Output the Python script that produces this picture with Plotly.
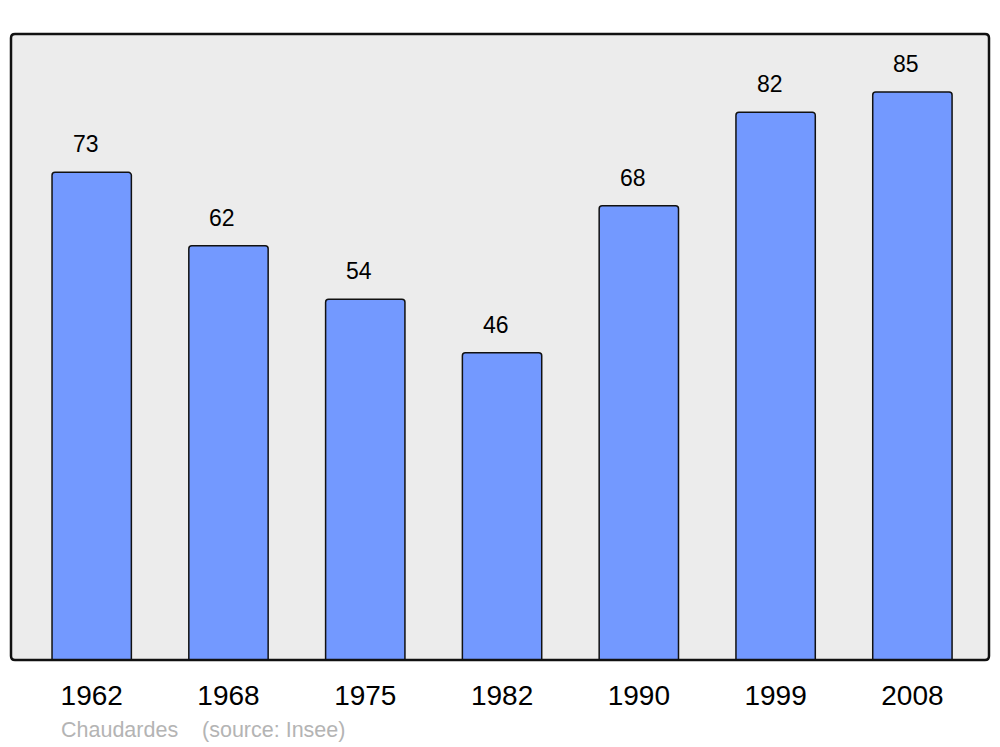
import plotly.graph_objects as go

years = ["1962", "1968", "1975", "1982", "1990", "1999", "2008"]
population = [73, 62, 54, 46, 68, 82, 85]
source_text = "Chaudardes    (source: Insee)"

FONT = "Liberation Sans, Arial, sans-serif"

fig = go.Figure()
fig.add_trace(go.Bar(
    x=years, y=population, width=0.58,
    marker=dict(color="#7399ff", line=dict(color="#111111", width=1.5), cornerradius=3),
    hoverinfo="skip",
))

for i, v in enumerate(population):
    fig.add_annotation(x=i, y=v, xref="x", yref="y", text=str(v), showarrow=False,
                       yanchor="bottom", yshift=13, xshift=-6,
                       font=dict(family=FONT, size=23, color="#000"))

fig.add_annotation(xref="paper", yref="paper", x=0.049, y=-0.112, xanchor="left", yanchor="middle",
                   text=source_text, showarrow=False,
                   font=dict(family=FONT, size=21.5, color="#b4b4b4"))

# rounded frame
rx, ry = 4 / 978, 4 / 626
path = (f"M {rx},0 L {1-rx},0 Q 1,0 1,{ry} L 1,{1-ry} Q 1,1 {1-rx},1 "
        f"L {rx},1 Q 0,1 0,{1-ry} L 0,{ry} Q 0,0 {rx},0 Z")
fig.add_shape(type="path", path=path, xref="paper", yref="paper", layer="below",
              fillcolor="#ececec", line=dict(width=0))
fig.add_shape(type="path", path=path, xref="paper", yref="paper", layer="above",
              fillcolor="rgba(0,0,0,0)", line=dict(color="#111111", width=2.5))

fig.update_layout(
    width=1000, height=747,
    margin=dict(l=11, r=11, t=34, b=87),
    paper_bgcolor="white", plot_bgcolor="rgba(0,0,0,0)",
    showlegend=False,
    font=dict(family=FONT),
    xaxis=dict(type="category", range=[-0.59, 6.56], showgrid=False, zeroline=False,
               showline=False, ticks="", ticklabelstandoff=16,
               tickfont=dict(family=FONT, size=28, color="#000")),
    yaxis=dict(range=[0, 93.7], showgrid=False, zeroline=False, showline=False,
               showticklabels=False, ticks=""),
)

fig.write_html("out.html", config={"displayModeBar": False},
               post_script="document.body.style.margin='0';")
